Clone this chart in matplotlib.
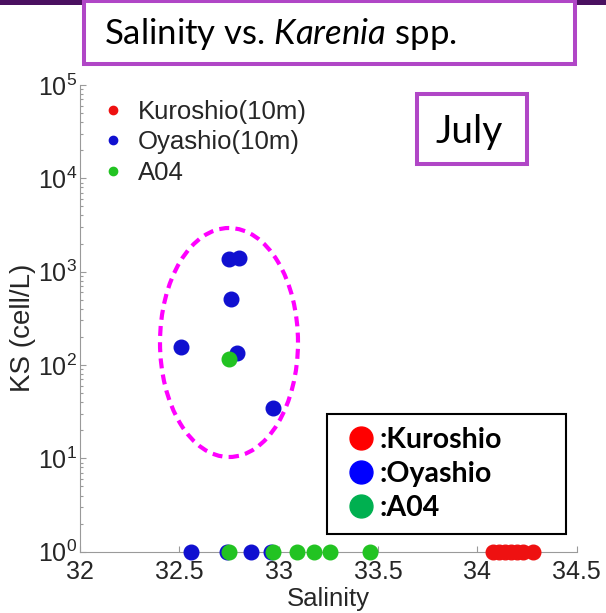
import matplotlib
matplotlib.use("Agg")
import matplotlib.pyplot as plt
import matplotlib.ticker as mticker
from matplotlib.lines import Line2D
from matplotlib.patches import Rectangle, Ellipse

plt.rcParams['font.family'] = ['Liberation Sans', 'DejaVu Sans']
plt.rcParams['mathtext.fontset'] = 'custom'
plt.rcParams['mathtext.rm'] = 'Liberation Sans'
plt.rcParams['mathtext.it'] = 'Lato:italic'

# ---- data: salinity vs. Karenia spp. cell density (July) ----
kuroshio_sal = [34.08, 34.11, 34.14, 34.17, 34.20, 34.23, 34.28]
kuroshio_ks = [1, 1, 1, 1, 1, 1, 1]

oyashio_sal = [32.75, 32.80, 32.76, 32.51, 32.79, 32.97, 32.56, 32.74, 32.86, 32.96]
oyashio_ks = [1370, 1400, 510, 155, 134, 35, 1, 1, 1, 1]

a04_sal = [32.75, 32.75, 32.97, 33.09, 33.18, 33.26, 33.46]
a04_ks = [115, 1, 1, 1, 1, 1, 1]

series_labels = ['Kuroshio(10m)', 'Oyashio(10m)', 'A04']
box_labels = [':Kuroshio', ':Oyashio', ':A04']
xticks = [32, 32.5, 33, 33.5, 34, 34.5]
xtick_labels = ['32', '32.5', '33', '33.5', '34', '34.5']

W, H = 606, 613
fig = plt.figure(figsize=(W / 100, H / 100), dpi=100)


def fx(px):
    return px / W


def fy(py):
    return 1 - py / H


ax = fig.add_axes([fx(80), fy(551.7), 496.7 / W, (551.7 - 85) / H])

dot_colors = ['#ee1111', '#1010d0', '#22c322']
for sal, ks, c, lab in zip([kuroshio_sal, oyashio_sal, a04_sal],
                           [kuroshio_ks, oyashio_ks, a04_ks],
                           dot_colors, series_labels):
    ax.plot(sal, ks, 'o', ls='none', color=c, mec=c, ms=10.5,
            clip_on=False, label=lab, zorder=3)

ax.set_yscale('log')
ax.set_xlim(32, 34.5)
ax.set_ylim(1, 1e5)
ax.set_xticks(xticks)
ax.set_xticklabels(xtick_labels)
ax.yaxis.set_major_locator(mticker.LogLocator(base=10, numticks=10))
ax.yaxis.set_minor_locator(mticker.LogLocator(base=10, subs=range(2, 10), numticks=20))
ax.yaxis.set_minor_formatter(mticker.NullFormatter())

for side in ('top', 'right'):
    ax.spines[side].set_visible(False)
for side in ('left', 'bottom'):
    ax.spines[side].set_color('#9a9a9a')
    ax.spines[side].set_linewidth(0.8)

ax.tick_params(which='both', direction='in', color='#9a9a9a', width=0.8,
               labelcolor='#262626', labelsize=18)
ax.tick_params(which='major', length=4)
ax.tick_params(which='minor', length=2.2)
ax.tick_params(axis='x', pad=6)
ax.tick_params(axis='y', pad=2)

ax.set_xlabel('Salinity', fontsize=18.5, color='#262626', labelpad=2)
ax.set_ylabel('KS (cell/L)', fontsize=20, color='#262626')
ax.yaxis.set_label_coords(-0.088, 0.479)

# series legend
leg1 = ax.legend(loc='upper left', bbox_to_anchor=(fx(100.15), fy(100)),
                 bbox_transform=fig.transFigure, frameon=False, borderpad=0,
                 borderaxespad=0, handlelength=1.0, handletextpad=0.47,
                 labelspacing=0.25, markerscale=0.57, fontsize=18.5,
                 labelcolor='#262626')
ax.add_artist(leg1)

# water-mass key
key_colors = ['#ff0000', '#0000ff', '#00b050']
key_handles = [Line2D([], [], marker='o', ls='none', color=c, mec=c, ms=16.5)
               for c in key_colors]
leg2 = ax.legend(key_handles, box_labels, loc='upper left',
                 bbox_to_anchor=(fx(327), fy(534), 239 / W, 120 / H),
                 bbox_transform=fig.transFigure, mode='expand',
                 borderaxespad=0, borderpad=0.45, handlelength=1.5,
                 handletextpad=-0.1, labelspacing=0.28,
                 prop=dict(family='Lato', weight='bold', size=20.5),
                 fancybox=False, edgecolor='black', framealpha=1)
leg2.get_frame().set_linewidth(1.5)

# dashed ellipse around the Oyashio cluster
fig.add_artist(Ellipse((fx(229), fy(342.5)), 138 / W, 229 / H,
                       transform=fig.transFigure, fill=False, ec='#ff00ff',
                       lw=3, ls=(0, (2.4, 1.5)), zorder=4))

# header bar and title box
fig.add_artist(Rectangle((0, fy(5)), 1, 5 / H, transform=fig.transFigure,
                         fc='#4a1060', ec='none', zorder=5))
fig.add_artist(Rectangle((fx(84), fy(64)), (575 - 84) / W, (64 - 1.5) / H,
                         transform=fig.transFigure, fc='white', ec='#b046c6',
                         lw=2.9, zorder=6))
fig.text(fx(104), fy(44.3), r'Salinity vs. $\mathit{Karenia}$ spp.',
         family='Lato', fontsize=25, color='black', ha='left', va='baseline',
         zorder=7)

# month box
fig.add_artist(Rectangle((fx(417), fy(163.5)), 110 / W, 70 / H,
                         transform=fig.transFigure, fc='white', ec='#b046c6',
                         lw=2.9, zorder=6))
fig.text(fx(469), fy(143), 'July', family='Lato', fontsize=28, color='black',
         ha='center', va='baseline', zorder=7)

fig.savefig('out.png', dpi=100)
